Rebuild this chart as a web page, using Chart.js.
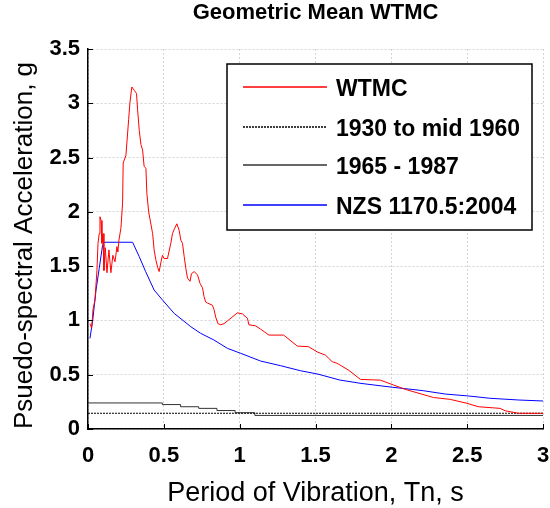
<!DOCTYPE html>
<html>
<head>
<meta charset="utf-8">
<script src="https://cdn.jsdelivr.net/npm/chart.js@4.4.1/dist/chart.umd.min.js"></script>
<style>
  html, body { margin: 0; padding: 0; background: #fff; }
  #wrap { width: 550px; height: 508px; }
</style>
</head>
<body>
<div id="wrap"><canvas id="spectraChart"></canvas></div>
<script>
// period (s) and pseudo-spectral acceleration (g)
const wtmcT = [0.013,0.024,0.033,0.046,0.059,0.066,0.074,0.079,0.086,0.092,0.099,0.105,0.114,0.125,0.138,0.151,0.164,0.178,0.191,0.197,
  0.204,0.217,0.228,0.232,0.25,0.268,0.276,0.289,0.305,0.32,0.327,0.338,0.349,0.36,0.37,0.382,0.388,0.40,0.426,0.436,
  0.447,0.459,0.469,0.48,0.491,0.502,0.524,0.546,0.557,0.572,0.586,0.601,0.612,0.623,0.634,0.645,0.656,0.673,0.682,0.70,
  0.722,0.739,0.755,0.765,0.776,0.788,0.82,0.831,0.842,0.857,0.875,0.897,0.985,1.018,1.051,1.061,1.105,1.138,1.193,1.29,
  1.38,1.454,1.511,1.566,1.61,1.643,1.72,1.796,1.928,2.015,2.092,2.169,2.278,2.388,2.498,2.574,2.717,2.75,2.838,3.0];
const wtmcSa = [0.97,0.93,1.10,1.19,1.46,1.71,1.80,1.955,1.92,1.71,1.80,1.46,1.67,1.44,1.65,1.44,1.60,1.54,1.68,1.63,
  1.74,1.85,2.08,2.45,2.52,2.85,3.0,3.15,3.12,3.09,2.94,2.75,2.62,2.57,2.42,2.40,2.17,2.0,1.80,1.65,
  1.56,1.49,1.45,1.53,1.60,1.57,1.57,1.71,1.80,1.85,1.89,1.83,1.74,1.71,1.59,1.48,1.39,1.36,1.43,1.45,
  1.42,1.34,1.30,1.22,1.17,1.16,1.14,1.10,1.03,0.97,0.96,0.97,1.07,1.06,1.02,0.96,0.95,0.92,0.865,0.865,
  0.764,0.758,0.71,0.68,0.62,0.605,0.54,0.457,0.45,0.405,0.365,0.334,0.29,0.273,0.237,0.205,0.19,0.168,0.145,0.145];

const era1T = [0, 3];
const era1Sa = [0.145, 0.145];

const era2T = [0, 0.49, 0.61, 0.73, 0.85, 0.97, 1.1, 3.0];
const era2Sa = [0.24, 0.225, 0.205, 0.19, 0.17, 0.15, 0.125, 0.125];

const nzsT = [0.013,0.031,0.053,0.074,0.096,0.105,0.294,0.338,0.38,0.436,0.49,0.568,0.678,0.743,0.83,0.919,1.007,1.138,1.27,1.4,
  1.515,1.66,1.8,2.01,2.21,2.355,2.51,2.65,2.84,3.0];
const nzsSa = [0.835,1.0,1.28,1.48,1.69,1.72,1.72,1.587,1.45,1.28,1.19,1.065,0.942,0.881,0.82,0.743,0.697,0.626,0.583,0.537,
  0.506,0.451,0.42,0.384,0.353,0.322,0.304,0.283,0.267,0.258];

const seriesNames = ['WTMC', '1930 to mid 1960', '1965 - 1987', 'NZS 1170.5:2004'];
const seriesColors = ['#ff0000', '#000000', '#333333', '#0000ff'];
const seriesDash = [[], [2, 1], [], []];

function toPoints(xs, ys) {
  return xs.map((x, i) => ({ x: x, y: ys[i] }));
}

const fontFamily = "'Liberation Sans', Arial, sans-serif";

// legend drawn as a boxed panel inside the axes, like the matlab one
const boxLegend = {
  id: 'boxLegend',
  afterDatasetsDraw(chart) {
    const ctx = chart.ctx;
    const rows = [87, 127, 165, 205];
    ctx.save();
    ctx.fillStyle = '#fff';
    ctx.fillRect(227, 64, 305, 166);
    ctx.strokeStyle = '#000';
    ctx.lineWidth = 1.5;
    ctx.strokeRect(227, 64, 305, 166);
    ctx.font = 'bold 23px ' + fontFamily;
    ctx.textBaseline = 'middle';
    for (let i = 0; i < seriesNames.length; i++) {
      ctx.beginPath();
      ctx.strokeStyle = seriesColors[i];
      ctx.lineWidth = 1.5;
      ctx.setLineDash(seriesDash[i]);
      ctx.moveTo(243, rows[i]);
      ctx.lineTo(327, rows[i]);
      ctx.stroke();
      ctx.setLineDash([]);
      ctx.fillStyle = '#000';
      ctx.fillText(seriesNames[i], 336, rows[i] + 3);
    }
    ctx.restore();
  }
};

// small inward tick marks on the bottom and left axes
const innerTicks = {
  id: 'innerTicks',
  afterDraw(chart) {
    const ctx = chart.ctx;
    const a = chart.chartArea;
    const xs = chart.scales.x, ys = chart.scales.y;
    ctx.save();
    ctx.strokeStyle = '#000';
    ctx.lineWidth = 1;
    ctx.beginPath();
    xs.ticks.forEach(t => {
      const px = Math.round(xs.getPixelForValue(t.value)) + 0.5;
      ctx.moveTo(px, a.bottom);
      ctx.lineTo(px, a.bottom - 5);
    });
    ys.ticks.forEach(t => {
      const py = Math.round(ys.getPixelForValue(t.value)) + 0.5;
      ctx.moveTo(a.left, py);
      ctx.lineTo(a.left + 5, py);
    });
    ctx.stroke();
    ctx.restore();
  }
};

const tickLabel = v => String(Math.round(v * 10) / 10);

new Chart(document.getElementById('spectraChart'), {
  type: 'line',
  data: {
    datasets: seriesNames.map((name, i) => ({
      label: name,
      data: [
        toPoints(wtmcT, wtmcSa),
        toPoints(era1T, era1Sa),
        toPoints(era2T, era2Sa),
        toPoints(nzsT, nzsSa)
      ][i],
      borderColor: seriesColors[i],
      borderDash: seriesDash[i],
      borderWidth: 1,
      stepped: i === 2 ? 'before' : false
    }))
  },
  options: {
    responsive: true,
    maintainAspectRatio: false,
    animation: false,
    devicePixelRatio: 1,
    layout: { padding: 0 },
    elements: {
      point: { radius: 0 },
      line: { tension: 0, fill: false }
    },
    plugins: {
      legend: { display: false },
      tooltip: { enabled: false },
      title: {
        display: true,
        text: 'Geometric Mean WTMC',
        fullSize: false,
        color: '#000',
        font: { family: fontFamily, size: 22, weight: 'bold', lineHeight: 1 },
        padding: { top: 2, bottom: 25 }
      }
    },
    scales: {
      x: {
        type: 'linear',
        min: 0,
        max: 3,
        ticks: { stepSize: 0.5, color: '#000', padding: 14, callback: tickLabel,
                 font: { family: fontFamily, size: 22, weight: 'bold' } },
        grid: { color: '#d2d2d2', drawTicks: false },
        border: { color: '#000', width: 1.5, dash: [2, 2] },
        title: {
          display: true,
          text: 'Period of Vibration, Tn, s',
          color: '#000',
          font: { family: fontFamily, size: 27, lineHeight: 1 },
          padding: { top: 0, bottom: 1 }
        },
        afterFit(scale) {
          scale.height = 79;
          scale.paddingLeft = 0;
          scale.paddingRight = 7;
        }
      },
      y: {
        min: 0,
        max: 3.5,
        ticks: { stepSize: 0.5, color: '#000', padding: 8, callback: tickLabel,
                 font: { family: fontFamily, size: 22, weight: 'bold' } },
        grid: { color: '#d2d2d2', drawTicks: false },
        border: { color: '#000', width: 1.5, dash: [2, 2] },
        title: {
          display: true,
          text: 'Psuedo-spectral Acceleration, g',
          align: 'start',
          color: '#000',
          font: { family: fontFamily, size: 26, lineHeight: 1 },
          padding: { top: 12, bottom: 0 }
        },
        afterFit(scale) {
          scale.width = 88;
          scale.paddingTop = 0;
          scale.paddingBottom = 0;
        }
      }
    }
  },
  plugins: [boxLegend, innerTicks]
});
</script>
</body>
</html>
